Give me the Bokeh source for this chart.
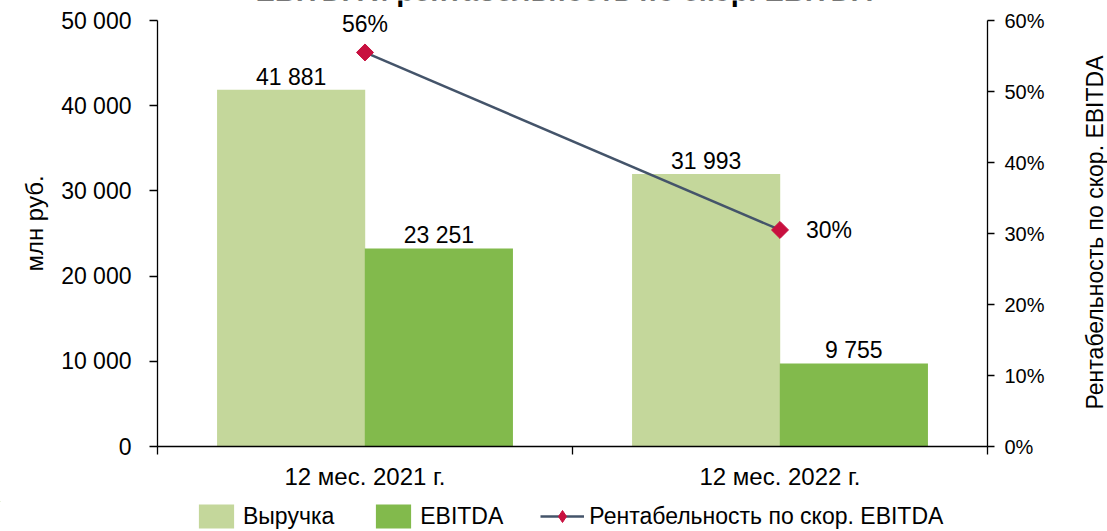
import math
from bokeh.plotting import figure
from bokeh.layouts import column, row
from bokeh.models import (Range1d, LinearAxis, FixedTicker, NumeralTickFormatter,
                          ColumnDataSource, Label, LabelSet, Legend, LegendItem)
from bokeh.embed import file_html
from bokeh.resources import INLINE
from bokeh.core.properties import value

# ---- data ----
categories = ["12 мес. 2021 г.", "12 мес. 2022 г."]
revenue = [41881, 31993]
ebitda = [23251, 9755]
margin = [0.555, 0.305]
margin_labels = ["56%", "30%"]
y_ticks = [0, 10000, 20000, 30000, 40000, 50000]
pct_ticks = [0.0, 0.1, 0.2, 0.3, 0.4, 0.5, 0.6]
series_names = ["Выручка", "EBITDA", "Рентабельность по скор. EBITDA"]
title_text = "EBITDA и рентабельность по скор. EBITDA"
y_label = "млн руб."
y2_label = "Рентабельность по скор. EBITDA"

FONT = "Liberation Sans"
C_REV = "#C4D79B"
C_EBITDA = "#82BA4C"
C_LINE = "#44546A"
C_MARK = "#C8103F"

# layout (pixels)
W, H = 1107, 531
MAIN_W, MAIN_H = 1082, 501
FRAME_H = 446          # frame spans canvas top .. x axis
TOP_GAP = 20           # px between canvas top and the top tick

def fmt(v):
    return f"{v:,}".replace(",", " ")

n = len(categories)
centers = [i + 0.5 for i in range(n)]
shift = 0.178
bw = 0.357

src = ColumnDataSource(dict(
    xc=centers,
    xr=[c - shift for c in centers],
    xe=[c + shift for c in centers],
    rev=revenue, eb=ebitda, m=margin,
    rev_lbl=[fmt(v) for v in revenue], eb_lbl=[fmt(v) for v in ebitda],
))

ext = FRAME_H / (FRAME_H - TOP_GAP)
p = figure(width=MAIN_W, height=MAIN_H, output_backend="svg", toolbar_location=None,
           x_range=Range1d(0, n), y_range=Range1d(0, y_ticks[-1] * ext),
           min_border_left=157, min_border_right=MAIN_W - 987, min_border_top=0,
           min_border_bottom=MAIN_H - FRAME_H)
p.extra_y_ranges = {"pct": Range1d(0, pct_ticks[-1] * ext)}
p.outline_line_color = None
p.xgrid.visible = False
p.ygrid.visible = False
p.background_fill_color = "white"
p.border_fill_color = "white"

# bars
p.vbar(x="xr", top="rev", width=bw, source=src, fill_color=C_REV, line_color=None)
p.vbar(x="xe", top="eb", width=bw, source=src, fill_color=C_EBITDA, line_color=None)

# line
p.line(x="xc", y="m", source=src, y_range_name="pct", line_color=C_LINE, line_width=2.5)
p.scatter(x="xc", y="m", source=src, y_range_name="pct", marker="square",
          angle=math.pi / 4, size=12, fill_color=C_MARK, line_color=C_MARK)

# x axis
xa = p.xaxis[0]
xa.ticker = FixedTicker(ticks=centers, minor_ticks=list(range(n + 1)))
xa.major_label_overrides = {c: cat for c, cat in zip(centers, categories)}
xa.major_tick_out = 0
xa.major_tick_in = 0
xa.minor_tick_out = 8
xa.minor_tick_in = 0
xa.minor_tick_line_color = "black"
xa.axis_line_color = "black"
xa.axis_line_width = 1.3
xa.minor_tick_line_width = 1.3
xa.major_label_standoff = 8
xa.major_label_text_font = FONT
xa.major_label_text_font_size = "24px"
xa.major_label_text_color = "black"

# left axis
ya = p.yaxis[0]
ya.ticker = FixedTicker(ticks=y_ticks, minor_ticks=[])
ya.bounds = (y_ticks[0], y_ticks[-1])
ya.major_label_overrides = {t: fmt(t) for t in y_ticks}
ya.major_tick_out = 8
ya.major_tick_in = 0
ya.minor_tick_out = 0
ya.minor_tick_in = 0
ya.major_label_standoff = 18
ya.major_label_text_font = FONT
ya.major_label_text_font_size = "23px"
ya.major_label_text_color = "black"
ya.axis_line_color = "black"
ya.axis_line_width = 1.3
ya.major_tick_line_width = 1.3
ya.axis_label = y_label
ya.axis_label_text_font = FONT
ya.axis_label_text_font_size = "24px"
ya.axis_label_text_font_style = "normal"
ya.axis_label_text_color = "black"
ya.axis_label_standoff = 10

# right axis
y2 = LinearAxis(y_range_name="pct", ticker=FixedTicker(ticks=pct_ticks, minor_ticks=[]),
                formatter=NumeralTickFormatter(format="0%"), bounds=(pct_ticks[0], pct_ticks[-1]))
y2.major_tick_out = 7
y2.major_tick_in = 0
y2.minor_tick_out = 0
y2.minor_tick_in = 0
y2.major_label_standoff = 10
y2.major_label_text_font = FONT
y2.major_label_text_font_size = "20px"
y2.major_label_text_color = "black"
y2.axis_line_color = "black"
y2.axis_line_width = 1.3
y2.major_tick_line_width = 1.3
p.add_layout(y2, "right")

# title (clipped at the top, as in the reference)
p.add_layout(Label(x=407, y=FRAME_H + 10, x_units="screen", y_units="screen", text=title_text,
                   text_align="center", text_baseline="middle", text_font=FONT,
                   text_font_style="bold", text_font_size="29px", text_color="black"))

# value labels
lbl_kw = dict(text_font=value(FONT), text_font_size="23px", text_color="black")
p.add_layout(LabelSet(x="xr", y="rev", text="rev_lbl", source=src, text_align="center",
                      text_baseline="alphabetic", y_offset=5, **lbl_kw))
p.add_layout(LabelSet(x="xe", y="eb", text="eb_lbl", source=src, text_align="center",
                      text_baseline="alphabetic", y_offset=5, **lbl_kw))
src_m1 = ColumnDataSource(dict(x=centers[:1], y=margin[:1], t=margin_labels[:1]))
src_m2 = ColumnDataSource(dict(x=centers[1:], y=margin[1:], t=margin_labels[1:]))
p.add_layout(LabelSet(x="x", y="y", text="t", source=src_m1, y_range_name="pct",
                      text_align="center", text_baseline="alphabetic", y_offset=20, **lbl_kw))
p.add_layout(LabelSet(x="x", y="y", text="t", source=src_m2, y_range_name="pct",
                      text_align="left", text_baseline="middle", x_offset=26, **lbl_kw))

# ---- right axis title strip ----
pr = figure(width=W - MAIN_W, height=MAIN_H, output_backend="svg", toolbar_location=None,
            x_range=Range1d(0, 1), y_range=Range1d(0, 1), x_axis_type=None, y_axis_type=None,
            min_border=0, min_border_left=0, min_border_right=0, min_border_top=0,
            min_border_bottom=0)
pr.outline_line_color = None
pr.background_fill_color = "white"
pr.border_fill_color = "white"
pr.add_layout(Label(x=12, y=FRAME_H - 232, x_units="screen", y_units="screen", text=y2_label,
                    angle=math.pi / 2, text_align="center", text_baseline="middle",
                    text_font=FONT, text_font_size="23px", text_color="black"))

# ---- legend strip ----
pl = figure(width=W, height=H - MAIN_H, output_backend="svg", toolbar_location=None,
            x_range=Range1d(10, 11), y_range=Range1d(-11, -10), x_axis_type=None,
            y_axis_type=None, min_border=0, min_border_left=0, min_border_right=0,
            min_border_top=0, min_border_bottom=0)
pl.outline_line_color = None
pl.background_fill_color = "white"
pl.border_fill_color = "white"
l_rev = pl.vbar(x="xr", top="rev", width=bw, source=src, fill_color=C_REV, line_color=None)
l_eb = pl.vbar(x="xe", top="eb", width=bw, source=src, fill_color=C_EBITDA, line_color=None)
l_line = pl.line(x="xc", y="m", source=src, line_color=C_LINE, line_width=2.5)
l_mark = pl.scatter(x="xc", y="m", source=src, marker="diamond", size=21,
                    fill_color=C_MARK, line_color=C_MARK)
leg = Legend(items=[LegendItem(label=series_names[0], renderers=[l_rev]),
                    LegendItem(label=series_names[1], renderers=[l_eb]),
                    LegendItem(label=series_names[2], renderers=[l_line, l_mark])],
             orientation="horizontal", location=(194, 0), border_line_color=None,
             background_fill_alpha=0, padding=0, margin=0,
             label_text_font=FONT, label_text_font_size="23px", label_text_color="black",
             glyph_width=44, glyph_height=30, label_height=30, label_standoff=5, spacing=37)
pl.add_layout(leg)

layout = column(row(p, pr), pl)
open("out.html", "w").write(file_html(layout, INLINE))
